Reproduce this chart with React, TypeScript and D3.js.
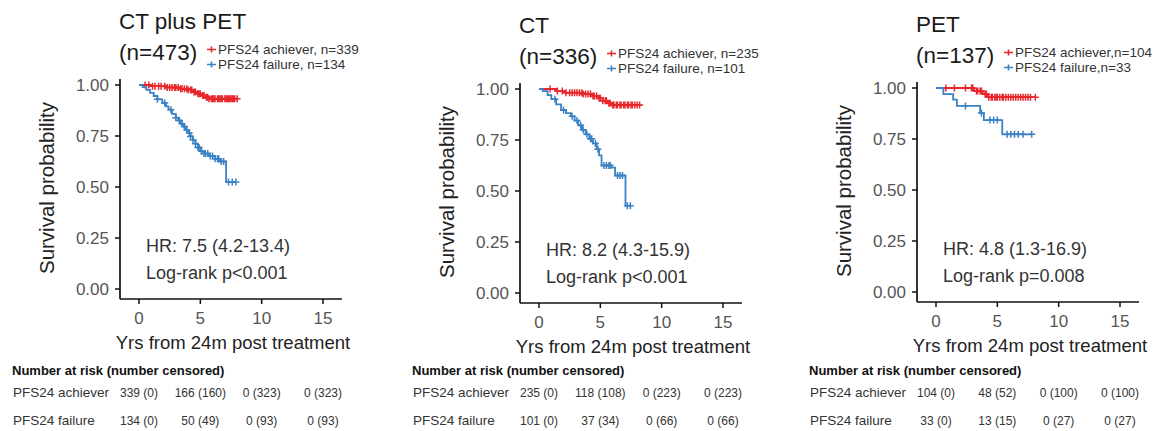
import * as d3 from "d3";

const panelTitles = ["CT plus PET", "CT", "PET"];
const panelCounts = ["(n=473)", "(n=336)", "(n=137)"];
const achieverLegend = ["PFS24 achiever, n=339", "PFS24 achiever, n=235", "PFS24 achiever,n=104"];
const failureLegend = ["PFS24 failure, n=134", "PFS24 failure, n=101", "PFS24 failure,n=33"];
const hrText = ["HR: 7.5 (4.2-13.4)", "HR: 8.2 (4.3-15.9)", "HR: 4.8 (1.3-16.9)"];
const pText = ["Log-rank p<0.001", "Log-rank p<0.001", "Log-rank p=0.008"];
const xTicks = [0, 5, 10, 15];
const yTicks = [0, 0.25, 0.5, 0.75, 1];
const riskRowLabels = ["PFS24 achiever", "PFS24 failure"];
const riskAchiever = [
  ["339 (0)", "166 (160)", "0 (323)", "0 (323)"],
  ["235 (0)", "118 (108)", "0 (223)", "0 (223)"],
  ["104 (0)", "48 (52)", "0 (100)", "0 (100)"],
];
const riskFailure = [
  ["134 (0)", "50 (49)", "0 (93)", "0 (93)"],
  ["101 (0)", "37 (34)", "0 (66)", "0 (66)"],
  ["33 (0)", "13 (15)", "0 (27)", "0 (27)"],
];

// CT plus PET
const ctpetAchTimes = [0, 0.9, 2.2, 3.3, 4.0, 4.4, 4.8, 5.1, 5.4, 5.7];
const ctpetAchSurv = [1, 0.994, 0.988, 0.982, 0.975, 0.966, 0.957, 0.948, 0.94, 0.933];
const ctpetAchCensor = [0.5, 0.8, 1.1, 1.3, 1.6, 1.8, 2.1, 2.3, 2.5, 2.7, 2.9, 3.0, 3.2, 3.4, 3.5, 3.7, 3.9, 4.0, 4.2, 4.3, 4.5, 4.6, 4.8, 4.9, 5.0, 5.2, 5.3, 5.5, 5.6, 5.7, 5.9, 6.0, 6.1, 6.2, 6.4, 6.5, 6.6, 6.7, 6.8, 7.0, 7.1, 7.2, 7.3, 7.4, 7.5, 7.6, 7.7, 7.8, 8.0];
const ctpetFailTimes = [0, 0.3, 0.6, 0.9, 1.2, 1.5, 1.9, 2.2, 2.4, 2.7, 3.0, 3.2, 3.4, 3.6, 3.8, 4.0, 4.2, 4.4, 4.6, 4.8, 5.0, 5.3, 5.7, 6.2, 6.6, 7.1];
const ctpetFailSurv = [1, 0.99, 0.976, 0.961, 0.946, 0.93, 0.912, 0.895, 0.879, 0.858, 0.84, 0.826, 0.81, 0.796, 0.78, 0.765, 0.748, 0.73, 0.712, 0.694, 0.675, 0.664, 0.652, 0.638, 0.625, 0.525];
const ctpetFailCensor = [1.5, 2.1, 2.6, 3.0, 3.3, 3.5, 3.7, 3.9, 4.1, 4.2, 4.4, 4.6, 4.8, 4.9, 5.1, 5.3, 5.4, 5.6, 5.8, 6.0, 6.2, 6.4, 6.5, 6.7, 6.9, 7.3, 7.6, 7.9];

// CT
const ctAchTimes = [0, 1.4, 2.1, 3.6, 4.3, 4.8, 5.2, 5.6, 6.0];
const ctAchSurv = [1, 0.99, 0.982, 0.976, 0.966, 0.955, 0.942, 0.93, 0.921];
const ctAchCensor = [0.9, 1.5, 1.9, 2.2, 2.5, 2.7, 2.9, 3.1, 3.3, 3.5, 3.6, 3.8, 4.0, 4.2, 4.4, 4.5, 4.7, 4.9, 5.0, 5.2, 5.4, 5.5, 5.7, 5.8, 6.0, 6.1, 6.3, 6.4, 6.6, 6.7, 6.9, 7.0, 7.2, 7.3, 7.5, 7.6, 7.8, 8.0, 8.2];
const ctFailTimes = [0, 0.3, 0.7, 1.0, 1.4, 1.8, 2.2, 2.6, 2.9, 3.2, 3.5, 3.8, 4.1, 4.4, 4.7, 4.9, 5.1, 5.9, 6.2, 7.05];
const ctFailSurv = [1, 0.99, 0.97, 0.95, 0.925, 0.897, 0.882, 0.866, 0.845, 0.822, 0.8, 0.778, 0.756, 0.733, 0.705, 0.675, 0.625, 0.615, 0.576, 0.428];
const ctFailCensor = [1.3, 2.0, 2.7, 3.1, 3.4, 3.6, 3.9, 4.2, 4.3, 4.6, 4.8, 5.3, 5.5, 5.7, 5.8, 6.4, 6.6, 6.8, 7.2, 7.45];

// PET
const petAchTimes = [0, 3.1, 3.8, 4.2];
const petAchSurv = [1, 0.985, 0.97, 0.955];
const petAchCensor = [0.8, 1.5, 2.4, 2.9, 3.0, 3.3, 3.4, 3.6, 3.7, 4.0, 4.1, 4.3, 4.5, 4.6, 4.8, 4.9, 5.0, 5.2, 5.4, 5.5, 5.7, 5.9, 6.1, 6.3, 6.5, 6.7, 6.9, 7.1, 7.3, 7.5, 7.7, 8.1];
const petFailTimes = [0, 0.6, 1.4, 1.7, 3.6, 3.9, 5.4];
const petFailSurv = [1, 0.97, 0.943, 0.912, 0.877, 0.843, 0.773];
const petFailCensor = [2.4, 3.7, 4.4, 4.7, 5.0, 5.8, 6.1, 6.4, 6.7, 7.1, 7.8];

const curves = [
  [
    { times: ctpetAchTimes, surv: ctpetAchSurv, censor: ctpetAchCensor },
    { times: ctpetFailTimes, surv: ctpetFailSurv, censor: ctpetFailCensor },
  ],
  [
    { times: ctAchTimes, surv: ctAchSurv, censor: ctAchCensor },
    { times: ctFailTimes, surv: ctFailSurv, censor: ctFailCensor },
  ],
  [
    { times: petAchTimes, surv: petAchSurv, censor: petAchCensor },
    { times: petFailTimes, surv: petFailSurv, censor: petFailCensor },
  ],
];

const colors = ["#e8262b", "#3b82c4"];
const font = "Liberation Sans, Arial, sans-serif";
// where each panel's y-axis line and y=1 tick sit
const panelOrigin = [
  [120, 85],
  [520, 89],
  [917, 88],
];

function KMCurve({ data, color, x, y }) {
  const { times, surv, censor } = data;
  const end = Math.max(d3.max(censor), d3.max(times));
  const pts = times.map((t, k) => [t, surv[k]]);
  pts.push([end, surv[surv.length - 1]]);
  const line = d3
    .line()
    .x((d) => x(d[0]))
    .y((d) => y(d[1]))
    .curve(d3.curveStepAfter);
  const survAt = (t) => surv[Math.max(0, d3.bisectRight(times, t) - 1)];
  return (
    <g stroke={color} fill="none" strokeWidth={1.8}>
      <path d={line(pts)} />
      {censor.map((t, k) => {
        const cx = x(t);
        const cy = y(survAt(t));
        return <path key={k} d={`M${cx - 3.5},${cy}h7M${cx},${cy - 3.5}v7`} strokeWidth={1.5} />;
      })}
    </g>
  );
}

function Panel({ i }) {
  const [L, T] = panelOrigin[i];
  const x = d3.scaleLinear([0, 15], [L + 19, L + 203]);
  const y = d3.scaleLinear([0, 1], [T + 204, T]);
  const axisY = T + 214;
  return (
    <g fontFamily={font}>
      <text x={L - 1} y={T - 56} fontSize={22.5} fill="#1a1a1a">{panelTitles[i]}</text>
      <text x={L - 1} y={T - 25} fontSize={22.5} fill="#1a1a1a">{panelCounts[i]}</text>
      {[achieverLegend[i], failureLegend[i]].map((lab, k) => {
        const ly = T - 31 + k * 15;
        return (
          <g key={k}>
            <path d={`M${L + 87},${ly - 4.5}h9M${L + 91.5},${ly - 7.5}v6`} stroke={colors[k]} strokeWidth={1.6} />
            <text x={L + 98} y={ly} fontSize={13.5} fill="#333">{lab}</text>
          </g>
        );
      })}

      {/* axes */}
      <line x1={L} x2={L} y1={T - 6} y2={axisY} stroke="#111" strokeWidth={1.7} />
      <line x1={L} x2={L + 222} y1={axisY} y2={axisY} stroke="#111" strokeWidth={1.7} />
      {yTicks.map((t) => (
        <g key={t}>
          <line x1={L - 5} x2={L} y1={y(t)} y2={y(t)} stroke="#111" strokeWidth={1.5} />
          <text x={L - 11} y={y(t)} dy="0.36em" textAnchor="end" fontSize={17} fill="#555">
            {t.toFixed(2)}
          </text>
        </g>
      ))}
      {xTicks.map((t) => (
        <g key={t}>
          <line x1={x(t)} x2={x(t)} y1={axisY} y2={axisY + 5} stroke="#111" strokeWidth={1.5} />
          <text x={x(t)} y={axisY + 25} textAnchor="middle" fontSize={17} fill="#555">{t}</text>
        </g>
      ))}
      <text x={L + 113} y={T + 264} textAnchor="middle" fontSize={18.5} fill="#222">
        Yrs from 24m post treatment
      </text>
      <text
        transform={`translate(${L - 66},${T + 103}) rotate(-90)`}
        textAnchor="middle"
        fontSize={20.5}
        fill="#222"
      >
        Survival probability
      </text>

      {curves[i].map((c, k) => (
        <KMCurve key={k} data={c} color={colors[k]} x={x} y={y} />
      ))}

      <text x={L + 26} y={T + 167} fontSize={18} fill="#333">{hrText[i]}</text>
      <text x={L + 26} y={T + 194} fontSize={18} fill="#333">{pText[i]}</text>

      {/* risk table */}
      <text x={L - 108} y={375} fontSize={13} fontWeight="bold" fill="#111">
        Number at risk (number censored)
      </text>
      {[riskAchiever[i], riskFailure[i]].map((row, k) => (
        <g key={k}>
          <text x={L - 107} y={397 + k * 28} fontSize={13.5} fill="#333">{riskRowLabels[k]}</text>
          {row.map((v, j) => (
            <text key={j} x={x(xTicks[j])} y={397 + k * 28} textAnchor="middle" fontSize={12} fill="#333">
              {v}
            </text>
          ))}
        </g>
      ))}
    </g>
  );
}

export default function App() {
  return (
    <svg width={1173} height={431} style={{ position: "absolute", left: 0, top: 0, background: "#fff" }}>
      <rect width={1173} height={431} fill="#fff" />
      {[0, 1, 2].map((i) => (
        <Panel key={i} i={i} />
      ))}
    </svg>
  );
}
